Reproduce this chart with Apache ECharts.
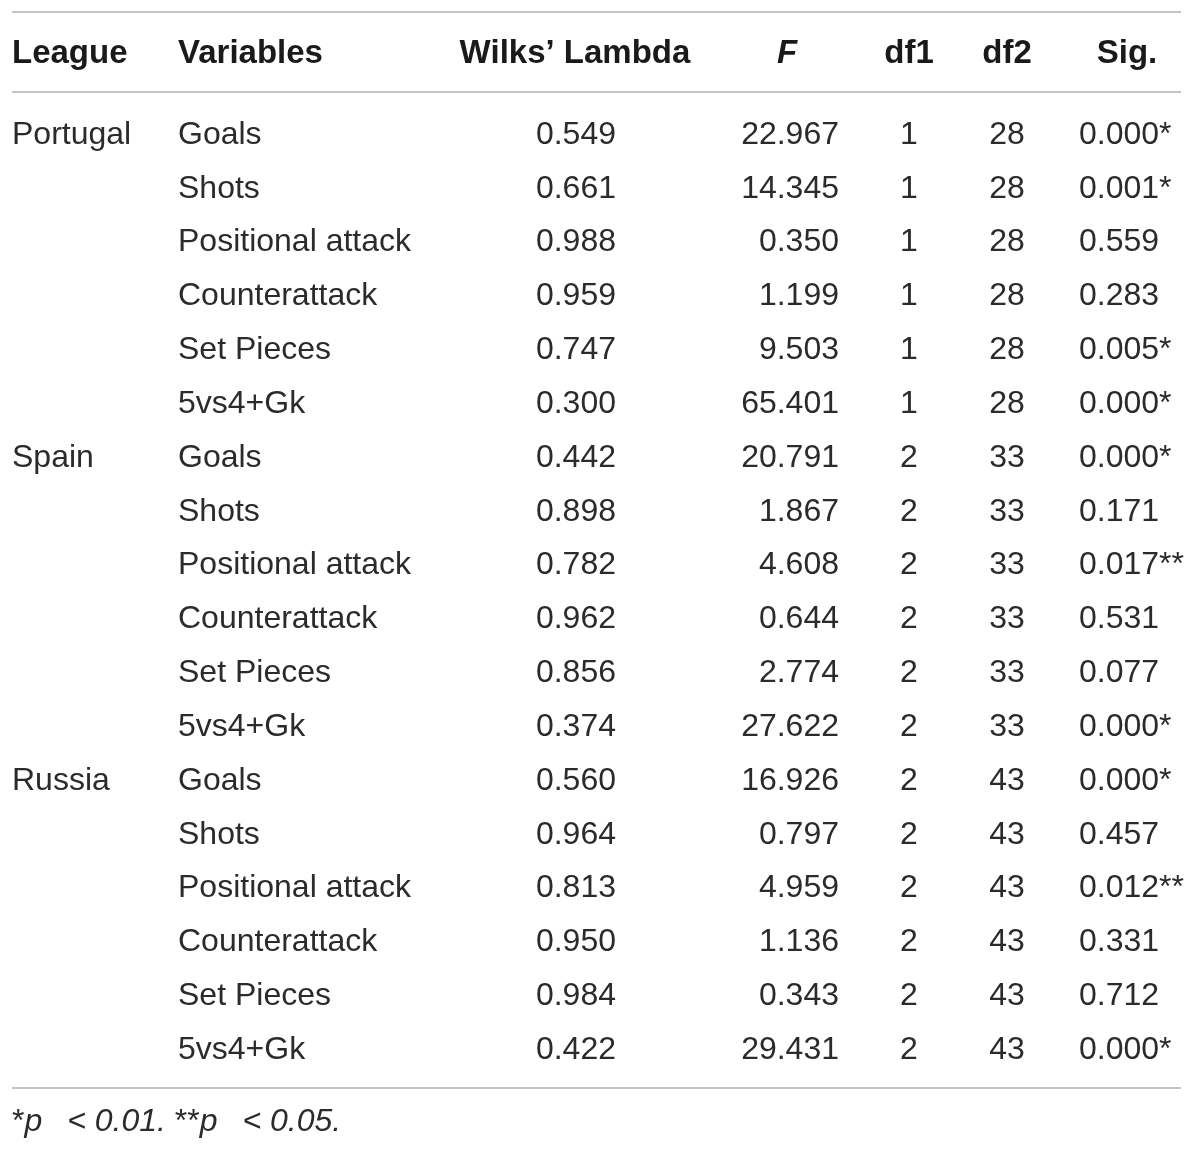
<!DOCTYPE html>
<html>
<head>
<meta charset="utf-8">
<script src="https://cdn.jsdelivr.net/npm/echarts@6/dist/echarts.min.js"></script>
<style>
  html, body { margin: 0; padding: 0; background: #fff; }
  #main { width: 1200px; height: 1150px; }
</style>
</head>
<body>
<div id="main"></div>
<script>
// table data
var headers = ['League', 'Variables', 'Wilks\u2019 Lambda', 'F', 'df1', 'df2', 'Sig.'];
var leagues = ['Portugal', '', '', '', '', '', 'Spain', '', '', '', '', '', 'Russia', '', '', '', '', ''];
var variables = ['Goals', 'Shots', 'Positional attack', 'Counterattack', 'Set Pieces', '5vs4+Gk',
  'Goals', 'Shots', 'Positional attack', 'Counterattack', 'Set Pieces', '5vs4+Gk',
  'Goals', 'Shots', 'Positional attack', 'Counterattack', 'Set Pieces', '5vs4+Gk'];
var wilks = ['0.549', '0.661', '0.988', '0.959', '0.747', '0.300',
  '0.442', '0.898', '0.782', '0.962', '0.856', '0.374',
  '0.560', '0.964', '0.813', '0.950', '0.984', '0.422'];
var fValues = ['22.967', '14.345', '0.350', '1.199', '9.503', '65.401',
  '20.791', '1.867', '4.608', '0.644', '2.774', '27.622',
  '16.926', '0.797', '4.959', '1.136', '0.343', '29.431'];
var df1 = [1, 1, 1, 1, 1, 1, 2, 2, 2, 2, 2, 2, 2, 2, 2, 2, 2, 2];
var df2 = [28, 28, 28, 28, 28, 28, 33, 33, 33, 33, 33, 33, 43, 43, 43, 43, 43, 43];
var sig = ['0.000*', '0.001*', '0.559', '0.283', '0.005*', '0.000*',
  '0.000*', '0.171', '0.017**', '0.531', '0.077', '0.000*',
  '0.000*', '0.457', '0.012**', '0.331', '0.712', '0.000*'];
var footnote = ['*', 'p', ' \u2002< 0.01. ', '**', 'p', ' \u2002< 0.05.'];

var myChart = echarts.init(document.getElementById('main'));

var FONT = '"Liberation Sans", Helvetica, Arial, sans-serif';
var PITCH = 53.83;         // px per row
var FIRST = 133;           // px centre of first body row
var HEADER_ROW = -1.5;
var RULES = [-2.25, -0.76, 17.74];
var FOOT_ROW = 18.34;
var BODY_SIZE = 32;
var HEAD_SIZE = 33;

// column anchors (x in px) and alignment
var cols = [
  { data: leagues, x: 12, align: 'left', hx: 12, halign: 'left' },
  { data: variables, x: 178, align: 'left', hx: 178, halign: 'left' },
  { data: wilks, x: 616, align: 'right', hx: 575, halign: 'center' },
  { data: fValues, x: 839, align: 'right', hx: 787, halign: 'center' },
  { data: df1, x: 909, align: 'center', hx: 909, halign: 'center' },
  { data: df2, x: 1007, align: 'center', hx: 1007, halign: 'center' },
  { data: sig, x: 1079, align: 'left', hx: 1127, halign: 'center' }
];

var series = [];
cols.forEach(function (c, i) {
  var pts = [];
  c.data.forEach(function (v, r) {
    if (v !== '') pts.push([c.x, r, String(v)]);
  });
  series.push({
    type: 'scatter',
    symbolSize: 0,
    silent: true,
    itemStyle: { opacity: 1 },
    data: pts,
    label: {
      show: true,
      position: 'inside',
      offset: [0, 2],
      align: c.align,
      verticalAlign: 'middle',
      formatter: function (p) { return p.value[2]; },
      fontFamily: FONT,
      fontSize: BODY_SIZE,
      color: '#2b2b2b'
    }
  });
  // header cell
  series.push({
    type: 'scatter',
    symbolSize: 0,
    silent: true,
    itemStyle: { opacity: 1 },
    data: [[c.hx, HEADER_ROW, headers[i]]],
    label: {
      show: true,
      position: 'inside',
      offset: [0, 2],
      align: c.halign,
      verticalAlign: 'middle',
      formatter: function (p) { return p.value[2]; },
      fontFamily: FONT,
      fontSize: HEAD_SIZE,
      fontWeight: 'bold',
      fontStyle: headers[i] === 'F' ? 'italic' : 'normal',
      color: '#1a1a1a'
    }
  });
});

// horizontal rules
series.push({
  type: 'scatter',
  symbolSize: 0,
  silent: true,
  data: [],
  markLine: {
    silent: true,
    symbol: ['none', 'none'],
    label: { show: false },
    lineStyle: { color: '#c4c4c4', width: 2, type: 'solid' },
    data: RULES.map(function (y) {
      return [{ coord: [12, y] }, { coord: [1181, y] }];
    })
  }
});

// footnote
series.push({
  type: 'scatter',
  symbolSize: 0,
  silent: true,
  itemStyle: { opacity: 1 },
  data: [[12, FOOT_ROW, '']],
  label: {
    show: true,
    position: 'inside',
    offset: [0, 2],
    align: 'left',
    verticalAlign: 'middle',
    formatter: '{n|' + footnote[0] + '}{i|' + footnote[1] + '}{i|' + footnote[2] + '}{n|' +
      footnote[3] + '}{i|' + footnote[4] + '}{i|' + footnote[5] + '}',
    rich: {
      n: { fontFamily: FONT, fontSize: BODY_SIZE, color: '#2b2b2b' },
      i: { fontFamily: FONT, fontSize: BODY_SIZE, fontStyle: 'italic', color: '#2b2b2b' }
    }
  }
});

var option = {
  backgroundColor: '#fff',
  animation: false,
  grid: { left: 0, right: 0, top: 0, bottom: 0 },
  xAxis: { type: 'value', min: 0, max: 1200, show: false },
  yAxis: {
    type: 'value',
    inverse: true,
    min: -FIRST / PITCH,
    max: (1150 - FIRST) / PITCH,
    show: false
  },
  series: series
};

myChart.setOption(option);
</script>
</body>
</html>
